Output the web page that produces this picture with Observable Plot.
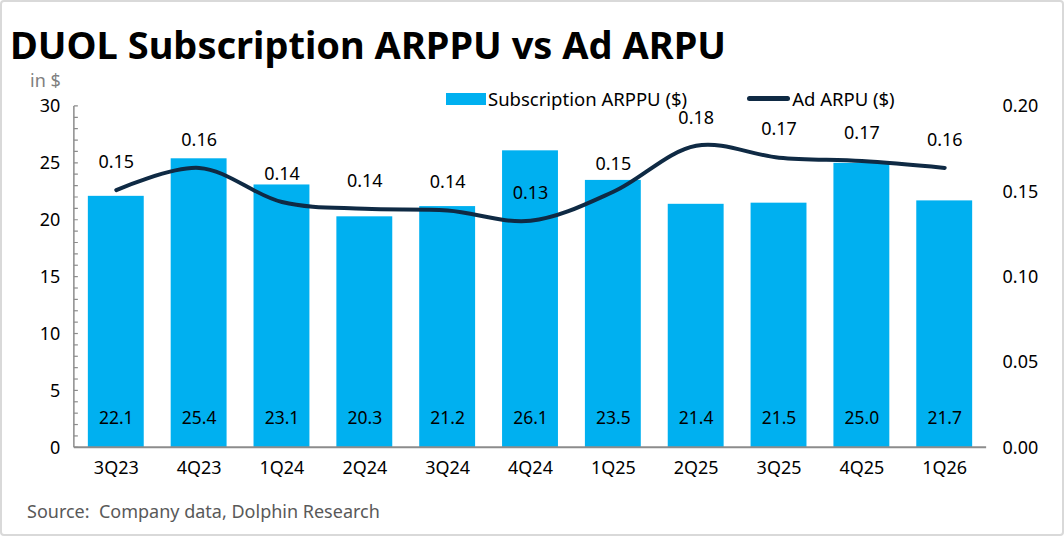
<!DOCTYPE html>
<html>
<head>
<meta charset="utf-8">
<script src="https://cdn.jsdelivr.net/npm/d3@7"></script>
<script src="https://cdn.jsdelivr.net/npm/@observablehq/plot@0.6"></script>
<style>
  body { margin: 0; background: #fff; }
  #wrap { position: relative; width: 1064px; height: 536px; box-sizing: border-box; border: 2px solid #d9d9d9; border-radius: 4px; font-family: "Noto Sans", "Open Sans", sans-serif; overflow: hidden; }
  #title { position: absolute; left: 8px; top: 20px; font-size: 38px; font-weight: 700; color: #000; white-space: nowrap; line-height: 1.2; }
  #unit { position: absolute; left: 28px; top: 66px; font-size: 18px; color: #7f7f7f; }
  #legend { position: absolute; left: 444px; top: 84px; font-size: 18.5px; color: #000; display: flex; align-items: center; white-space: nowrap; }
  .sw-bar { display: inline-block; width: 40px; height: 12px; background: #00B0F0; margin-right: 2px; }
  .sw-line { display: inline-block; width: 43px; height: 5px; background: #0F2A44; border-radius: 3px; margin-right: 2px; }
  #chart { position: absolute; left: -2px; top: 78px; }
  #source { position: absolute; left: 25px; top: 497px; font-size: 18px; color: #595959; white-space: pre; }
</style>
</head>
<body>
<div id="wrap">
  <div id="title">DUOL Subscription ARPPU vs Ad ARPU</div>
  <div id="unit">in $</div>
  <div id="legend"><span class="sw-bar"></span><span>Subscription ARPPU ($)</span><span style="display:inline-block;width:60px"></span><span class="sw-line"></span><span>Ad ARPU ($)</span></div>
  <div id="chart"></div>
  <div id="source">Source:  Company data, Dolphin Research</div>
</div>
<script>
const quarters = ["3Q23","4Q23","1Q24","2Q24","3Q24","4Q24","1Q25","2Q25","3Q25","4Q25","1Q26"];
const subArppu = [22.1, 25.4, 23.1, 20.3, 21.2, 26.1, 23.5, 21.4, 21.5, 25.0, 21.7];
const adArpu   = [0.151, 0.164, 0.144, 0.140, 0.139, 0.133, 0.150, 0.177, 0.170, 0.168, 0.164];
const leftTicks = [0, 5, 10, 15, 20, 25, 30];
const rightTicks = [0, 0.05, 0.10, 0.15, 0.20];

const k = 30 / 0.20; // right axis to left axis factor
const data = quarters.map((q, i) => ({q, sub: subArppu[i], ad: adArpu[i]}));

const font = "'Noto Sans', 'Open Sans', sans-serif";

const axisFrame = (index, scales, values, dims) => {
  const g = d3.create("svg:g");
  const x0 = dims.marginLeft, x1 = dims.width - dims.marginRight;
  const yb = scales.y(0), yt = scales.y(30);
  g.append("line").attr("x1", x0).attr("x2", x0).attr("y1", yb).attr("y2", yt)
    .attr("stroke", "#8c8c8c").attr("stroke-width", 1.5);
  for (const v of d3.range(0, 31)) {
    g.append("line").attr("x1", x0).attr("x2", x0 + 4).attr("y1", scales.y(v)).attr("y2", scales.y(v))
      .attr("stroke", "#8c8c8c").attr("stroke-width", 1.2);
  }
  g.append("line").attr("x1", x0).attr("x2", x1).attr("y1", yb).attr("y2", yb)
    .attr("stroke", "#8c8c8c").attr("stroke-width", 2);
  return g.node();
};

const chart = Plot.plot({
  width: 1064,
  height: 412,
  marginLeft: 74,
  marginRight: 76,
  marginTop: 26,
  marginBottom: 44,
  style: {fontFamily: font, fontSize: "18px", color: "#000", background: "transparent"},
  x: {domain: quarters, paddingInner: 0.33, paddingOuter: 0.16, label: null},
  y: {domain: [0, 30], label: null},
  marks: [
    Plot.barY(data, {x: "q", y: "sub", fill: "#00B0F0"}),
    axisFrame,
    Plot.axisY({anchor: "left", ticks: leftTicks, tickSize: 0, tickPadding: 14, label: null, fontSize: 18}),
    Plot.axisY({anchor: "right", ticks: rightTicks.map(d => d * k), tickFormat: d => (d / k).toFixed(2), tickSize: 0, tickPadding: 16, label: null, fontSize: 18}),
    Plot.axisX({tickSize: 0, tickPadding: 13, label: null, fontSize: 18}),
    Plot.line(data, {x: "q", y: d => d.ad * k, stroke: "#0F2A44", strokeWidth: 4, curve: "catmull-rom", strokeLinecap: "round"}),
    Plot.text(data, {x: "q", frameAnchor: "bottom", dy: -24, text: d => d.sub.toFixed(1), fill: "#000", fontSize: 17.5}),
    Plot.text(data, {x: "q", y: d => d.ad * k, dy: -28, text: d => d.ad.toFixed(2), fill: "#000", fontSize: 18})
  ]
});
document.getElementById("chart").appendChild(chart);
</script>
</body>
</html>
